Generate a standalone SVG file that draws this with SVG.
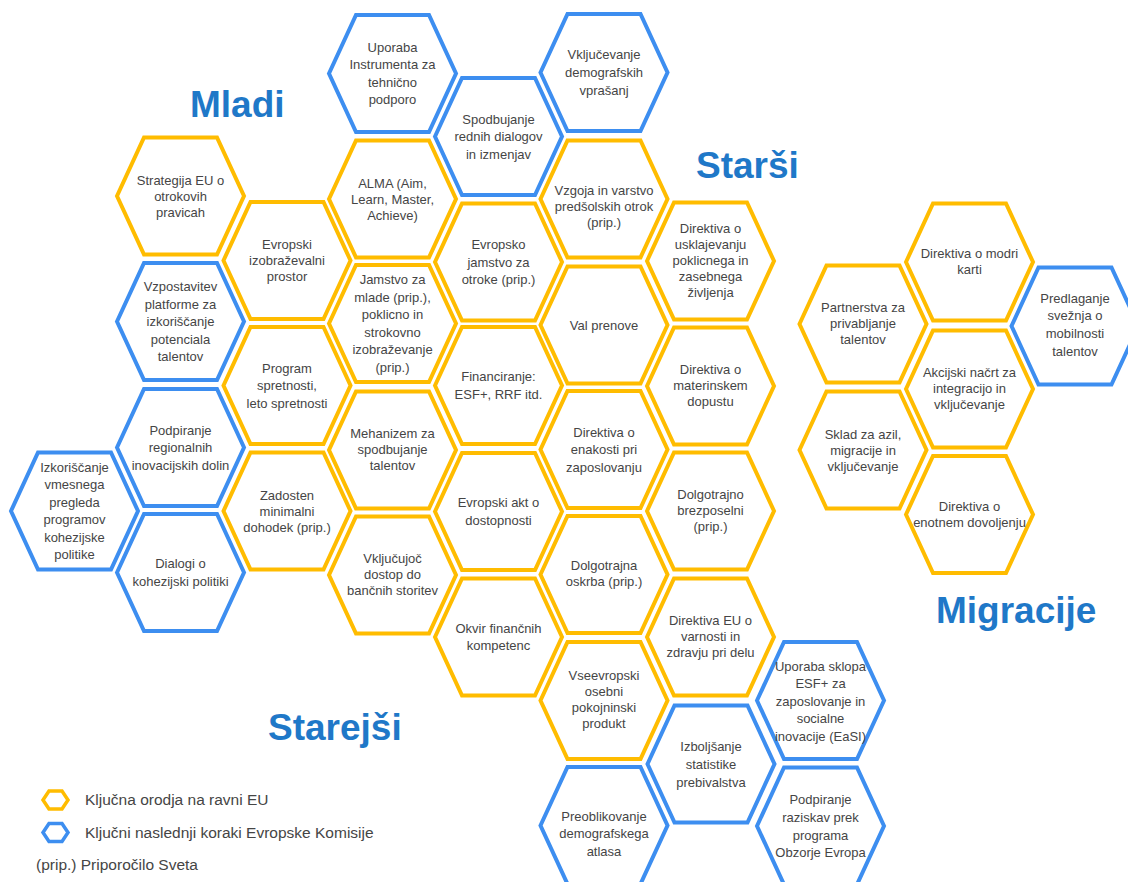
<svg xmlns="http://www.w3.org/2000/svg" xmlns:xlink="http://www.w3.org/1999/xlink" width="1128" height="882" viewBox="0 0 1128 882">
<style>
.hy{fill:#fff;stroke:#FFBC00;stroke-width:4;stroke-linejoin:miter}
.hb{fill:#fff;stroke:#3D8EF0;stroke-width:4;stroke-linejoin:miter}
.ly{fill:none;stroke:#FFBC00;stroke-width:3.5}
.lb{fill:none;stroke:#3D8EF0;stroke-width:3.5}
.t{font-family:"Liberation Sans",Arial,sans-serif;font-size:13px;fill:#454545;text-anchor:middle}
.ttl{font-family:"Liberation Sans",Arial,sans-serif;font-size:37px;font-weight:bold;fill:#1F78C8}
.lg{font-family:"Liberation Sans",Arial,sans-serif;font-size:15.5px;fill:#454545}
</style>
<defs>
<path id="hex" d="M-63.5,0 L-36.5,-58.5 L36.5,-58.5 L63.5,0 L36.5,58.5 L-36.5,58.5 Z"/>
<path id="lhex" d="M-12.5,0 L-6.5,-9 L6.5,-9 L12.5,0 L6.5,9 L-6.5,9 Z"/>
</defs>
<rect width="1128" height="882" fill="#fff"/>

<g id="titles">
<text class="ttl" x="190" y="117">Mladi</text>
<text class="ttl" x="696" y="178">Starši</text>
<text class="ttl" x="936" y="623">Migracije</text>
<text class="ttl" x="268" y="740">Starejši</text>
</g>

<g id="n-strategija"><use xlink:href="#hex" x="180.5" y="196" class="hy"/><text class="t"><tspan x="180.5" y="184.5">Strategija EU o</tspan><tspan x="180.5" y="200.5">otrokovih</tspan><tspan x="180.5" y="216.5">pravicah</tspan></text></g>
<g id="n-vzpostavitev"><use xlink:href="#hex" x="180.5" y="321.5" class="hb"/><text class="t"><tspan x="180.5" y="291">Vzpostavitev</tspan><tspan x="180.5" y="308.5">platforme za</tspan><tspan x="180.5" y="326">izkoriščanje</tspan><tspan x="180.5" y="343.5">potenciala</tspan><tspan x="180.5" y="361">talentov</tspan></text></g>
<g id="n-podpiranje-dolin"><use xlink:href="#hex" x="180.5" y="447.5" class="hb"/><text class="t"><tspan x="180.5" y="434.5">Podpiranje</tspan><tspan x="180.5" y="452">regionalnih</tspan><tspan x="180.5" y="469.5">inovacijskih dolin</tspan></text></g>
<g id="n-dialogi"><use xlink:href="#hex" x="180.5" y="572.5" class="hb"/><text class="t"><tspan x="180.5" y="568.25">Dialogi o</tspan><tspan x="180.5" y="585.75">kohezijski politiki</tspan></text></g>
<g id="n-izkoriscanje"><use xlink:href="#hex" x="74.5" y="511" class="hb"/><text class="t"><tspan x="74.5" y="471.75">Izkoriščanje</tspan><tspan x="74.5" y="489.25">vmesnega</tspan><tspan x="74.5" y="506.75">pregleda</tspan><tspan x="74.5" y="524.25">programov</tspan><tspan x="74.5" y="541.75">kohezijske</tspan><tspan x="74.5" y="559.25">politike</tspan></text></g>

<g id="n-izobrazevalni"><use xlink:href="#hex" x="287" y="260.5" class="hy"/><text class="t"><tspan x="287" y="249">Evropski</tspan><tspan x="287" y="265">izobraževalni</tspan><tspan x="287" y="281">prostor</tspan></text></g>
<g id="n-spretnosti"><use xlink:href="#hex" x="287" y="385.5" class="hy"/><text class="t"><tspan x="287" y="372.5">Program</tspan><tspan x="287" y="390">spretnosti,</tspan><tspan x="287" y="407.5">leto spretnosti</tspan></text></g>
<g id="n-dohodek"><use xlink:href="#hex" x="287" y="511" class="hy"/><text class="t"><tspan x="287" y="499.5">Zadosten</tspan><tspan x="287" y="515.5">minimalni</tspan><tspan x="287" y="531.5">dohodek (prip.)</tspan></text></g>

<g id="n-instrument"><use xlink:href="#hex" x="392.5" y="73.5" class="hb"/><text class="t"><tspan x="392.5" y="51.75">Uporaba</tspan><tspan x="392.5" y="69.25">Instrumenta za</tspan><tspan x="392.5" y="86.75">tehnično</tspan><tspan x="392.5" y="104.25">podporo</tspan></text></g>
<g id="n-alma"><use xlink:href="#hex" x="392.5" y="199" class="hy"/><text class="t"><tspan x="392.5" y="187.5">ALMA (Aim,</tspan><tspan x="392.5" y="203.5">Learn, Master,</tspan><tspan x="392.5" y="219.5">Achieve)</tspan></text></g>
<g id="n-jamstvo-mladi"><use xlink:href="#hex" x="392.5" y="323.5" class="hy"/><text class="t"><tspan x="392.5" y="284.25">Jamstvo za</tspan><tspan x="392.5" y="301.75">mlade (prip.),</tspan><tspan x="392.5" y="319.25">poklicno in</tspan><tspan x="392.5" y="336.75">strokovno</tspan><tspan x="392.5" y="354.25">izobraževanje</tspan><tspan x="392.5" y="371.75">(prip.)</tspan></text></g>
<g id="n-mehanizem"><use xlink:href="#hex" x="392.5" y="450" class="hy"/><text class="t"><tspan x="392.5" y="437.5">Mehanizem za</tspan><tspan x="392.5" y="453.5">spodbujanje</tspan><tspan x="392.5" y="469.5">talentov</tspan></text></g>
<g id="n-bancne"><use xlink:href="#hex" x="392.5" y="575" class="hy"/><text class="t"><tspan x="392.5" y="562.5">Vključujoč</tspan><tspan x="392.5" y="578.5">dostop do</tspan><tspan x="392.5" y="594.5">bančnih storitev</tspan></text></g>

<g id="n-dialogi-izmenjave"><use xlink:href="#hex" x="498.5" y="136.5" class="hb"/><text class="t"><tspan x="498.5" y="123.5">Spodbujanje</tspan><tspan x="498.5" y="141">rednih dialogov</tspan><tspan x="498.5" y="158.5">in izmenjav</tspan></text></g>
<g id="n-jamstvo-otroci"><use xlink:href="#hex" x="498.5" y="262" class="hy"/><text class="t"><tspan x="498.5" y="249">Evropsko</tspan><tspan x="498.5" y="266.5">jamstvo za</tspan><tspan x="498.5" y="284">otroke (prip.)</tspan></text></g>
<g id="n-financiranje"><use xlink:href="#hex" x="498.5" y="385.5" class="hy"/><text class="t"><tspan x="498.5" y="381.25">Financiranje:</tspan><tspan x="498.5" y="398.75">ESF+, RRF itd.</tspan></text></g>
<g id="n-dostopnost"><use xlink:href="#hex" x="498.5" y="511.5" class="hy"/><text class="t"><tspan x="498.5" y="507.25">Evropski akt o</tspan><tspan x="498.5" y="524.75">dostopnosti</tspan></text></g>
<g id="n-okvir"><use xlink:href="#hex" x="498.5" y="637" class="hy"/><text class="t"><tspan x="498.5" y="633">Okvir finančnih</tspan><tspan x="498.5" y="650">kompetenc</tspan></text></g>

<g id="n-demografska"><use xlink:href="#hex" x="604" y="72.5" class="hb"/><text class="t"><tspan x="604" y="59">Vključevanje</tspan><tspan x="604" y="77">demografskih</tspan><tspan x="604" y="95">vprašanj</tspan></text></g>
<g id="n-vzgoja"><use xlink:href="#hex" x="604" y="199" class="hy"/><text class="t"><tspan x="604" y="194.5">Vzgoja in varstvo</tspan><tspan x="604" y="210.5">predšolskih otrok</tspan><tspan x="604" y="226.5">(prip.)</tspan></text></g>
<g id="n-val"><use xlink:href="#hex" x="604" y="325" class="hy"/><text class="t"><tspan x="604" y="329.5">Val prenove</tspan></text></g>
<g id="n-enakost"><use xlink:href="#hex" x="604" y="449.5" class="hy"/><text class="t"><tspan x="604" y="436.5">Direktiva o</tspan><tspan x="604" y="454">enakosti pri</tspan><tspan x="604" y="471.5">zaposlovanju</tspan></text></g>
<g id="n-oskrba"><use xlink:href="#hex" x="604" y="574.5" class="hy"/><text class="t"><tspan x="604" y="569.5">Dolgotrajna</tspan><tspan x="604" y="585.5">oskrba (prip.)</tspan></text></g>
<g id="n-pokojnine"><use xlink:href="#hex" x="604" y="700.5" class="hy"/><text class="t"><tspan x="604" y="679.5">Vseevropski</tspan><tspan x="604" y="695.5">osebni</tspan><tspan x="604" y="711.5">pokojninski</tspan><tspan x="604" y="727.5">produkt</tspan></text></g>
<g id="n-atlas"><use xlink:href="#hex" x="604" y="825.5" class="hb"/><text class="t"><tspan x="604" y="820.5">Preoblikovanje</tspan><tspan x="604" y="838">demografskega</tspan><tspan x="604" y="855.5">atlasa</tspan></text></g>

<g id="n-usklajevanje"><use xlink:href="#hex" x="710.5" y="261" class="hy"/><text class="t"><tspan x="710.5" y="232.5">Direktiva o</tspan><tspan x="710.5" y="248.5">usklajevanju</tspan><tspan x="710.5" y="264.5">poklicnega in</tspan><tspan x="710.5" y="280.5">zasebnega</tspan><tspan x="710.5" y="296.5">življenja</tspan></text></g>
<g id="n-materinski"><use xlink:href="#hex" x="710.5" y="386" class="hy"/><text class="t"><tspan x="710.5" y="373.5">Direktiva o</tspan><tspan x="710.5" y="389.5">materinskem</tspan><tspan x="710.5" y="405.5">dopustu</tspan></text></g>
<g id="n-brezposelni"><use xlink:href="#hex" x="710.5" y="511" class="hy"/><text class="t"><tspan x="710.5" y="498.5">Dolgotrajno</tspan><tspan x="710.5" y="514.5">brezposelni</tspan><tspan x="710.5" y="530.5">(prip.)</tspan></text></g>
<g id="n-varnost"><use xlink:href="#hex" x="710.5" y="637" class="hy"/><text class="t"><tspan x="710.5" y="624.5">Direktiva EU o</tspan><tspan x="710.5" y="640.5">varnosti in</tspan><tspan x="710.5" y="656.5">zdravju pri delu</tspan></text></g>
<g id="n-statistika"><use xlink:href="#hex" x="711" y="764" class="hb"/><text class="t"><tspan x="711" y="750.5">Izboljšanje</tspan><tspan x="711" y="768.5">statistike</tspan><tspan x="711" y="786.5">prebivalstva</tspan></text></g>

<g id="n-easi"><use xlink:href="#hex" x="820.5" y="700.5" class="hb"/><text class="t"><tspan x="820.5" y="670.5">Uporaba sklopa</tspan><tspan x="820.5" y="688">ESF+ za</tspan><tspan x="820.5" y="705.5">zaposlovanje in</tspan><tspan x="820.5" y="723">socialne</tspan><tspan x="820.5" y="740.5">inovacije (EaSI)</tspan></text></g>
<g id="n-obzorje"><use xlink:href="#hex" x="820.5" y="826" class="hb"/><text class="t"><tspan x="820.5" y="803.5">Podpiranje</tspan><tspan x="820.5" y="821.5">raziskav prek</tspan><tspan x="820.5" y="839.5">programa</tspan><tspan x="820.5" y="856.5">Obzorje Evropa</tspan></text></g>

<g id="n-partnerstva"><use xlink:href="#hex" x="863" y="324" class="hy"/><text class="t"><tspan x="863" y="312">Partnerstva za</tspan><tspan x="863" y="328">privabljanje</tspan><tspan x="863" y="344">talentov</tspan></text></g>
<g id="n-sklad"><use xlink:href="#hex" x="863" y="450" class="hy"/><text class="t"><tspan x="863" y="438.5">Sklad za azil,</tspan><tspan x="863" y="454.5">migracije in</tspan><tspan x="863" y="470.5">vključevanje</tspan></text></g>
<g id="n-modra-karta"><use xlink:href="#hex" x="969.5" y="262" class="hy"/><text class="t"><tspan x="969.5" y="257.5">Direktiva o modri</tspan><tspan x="969.5" y="273.5">karti</tspan></text></g>
<g id="n-akcijski"><use xlink:href="#hex" x="969.5" y="389" class="hy"/><text class="t"><tspan x="969.5" y="376.5">Akcijski načrt za</tspan><tspan x="969.5" y="392.5">integracijo in</tspan><tspan x="969.5" y="408.5">vključevanje</tspan></text></g>
<g id="n-enotno"><use xlink:href="#hex" x="969.5" y="514.5" class="hy"/><text class="t"><tspan x="969.5" y="510.5">Direktiva o</tspan><tspan x="969.5" y="526.5">enotnem dovoljenju</tspan></text></g>
<g id="n-mobilnost"><use xlink:href="#hex" x="1075" y="326" class="hb"/><text class="t"><tspan x="1075" y="302.5">Predlaganje</tspan><tspan x="1075" y="320">svežnja o</tspan><tspan x="1075" y="337.5">mobilnosti</tspan><tspan x="1075" y="355.5">talentov</tspan></text></g>

<g id="legend">
<use xlink:href="#lhex" x="55.5" y="800" class="ly"/>
<text class="lg" x="85" y="805">Ključna orodja na ravni EU</text>
<use xlink:href="#lhex" x="55.5" y="832.5" class="lb"/>
<text class="lg" x="85" y="838">Ključni naslednji koraki Evropske Komisije</text>
<text class="lg" x="36" y="870">(prip.) Priporočilo Sveta</text>
</g>
</svg>
